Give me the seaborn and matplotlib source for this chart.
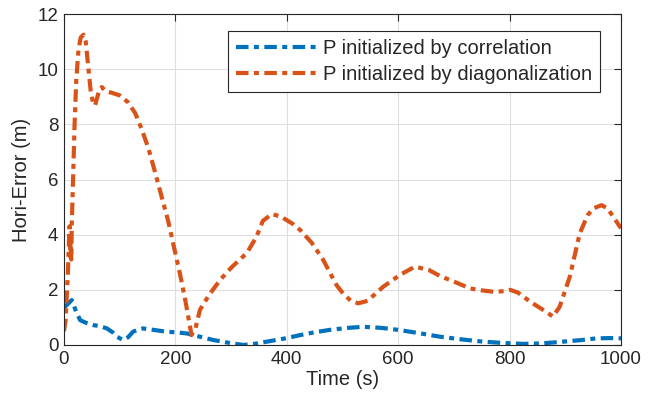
import pandas as pd
import matplotlib
matplotlib.use('Agg')
import matplotlib.pyplot as plt
import seaborn as sns

# values
corr_time = [0, 5, 14, 22, 29, 40, 53, 65, 77, 88, 95, 106, 115, 124, 133, 142, 160, 184, 200,
             220, 240, 268, 295, 322, 345, 364, 400, 424, 450, 478, 510, 537, 570, 603, 640,
             675, 715, 753, 790, 825, 860, 896, 930, 956, 980, 1000]
corr_err = [1.35, 1.45, 1.63, 1.2, 0.9, 0.8, 0.72, 0.68, 0.6, 0.45, 0.3, 0.18, 0.28, 0.48, 0.56,
            0.6, 0.55, 0.48, 0.46, 0.42, 0.32, 0.18, 0.08, 0.0, 0.05, 0.12, 0.25, 0.36, 0.46,
            0.55, 0.62, 0.66, 0.62, 0.54, 0.42, 0.3, 0.2, 0.12, 0.07, 0.04, 0.06, 0.12, 0.18,
            0.24, 0.25, 0.24]

diag_time = [0, 3, 5, 7, 9, 10, 11, 12, 13, 14, 16, 19, 22, 26, 30, 35, 39, 43, 48, 53, 56, 60,
             64, 68, 75, 85, 100, 115, 128, 140, 152, 163, 175, 187, 198, 208, 218, 225, 229,
             236, 244, 260, 280, 300, 328, 345, 357, 373, 390, 410, 424, 445, 465, 478, 490,
             501, 515, 528, 545, 573, 603, 630, 655, 675, 700, 729, 750, 771, 790, 801, 815,
             837, 858, 878, 890, 908, 926, 940, 950, 965, 976, 986, 1000]
diag_err = [0.5, 0.9, 1.8, 2.6, 3.8, 4.3, 3.2, 4.0, 3.1, 4.4, 5.8, 8.0, 9.6, 10.7, 11.15, 11.25,
            11.0, 10.2, 9.2, 8.7, 8.7, 9.0, 9.3, 9.35, 9.2, 9.15, 9.05, 8.8, 8.4, 7.8, 7.1, 6.3,
            5.4, 4.5, 3.5, 2.6, 1.6, 0.8, 0.36, 0.6, 1.27, 1.8, 2.35, 2.8, 3.33, 3.9, 4.5, 4.75,
            4.65, 4.4, 4.17, 3.7, 3.1, 2.6, 2.15, 1.87, 1.6, 1.51, 1.6, 2.11, 2.54, 2.84, 2.72,
            2.5, 2.3, 2.05, 1.98, 1.93, 1.95, 2.0, 1.9, 1.57, 1.3, 1.03, 1.39, 2.47, 4.05, 4.7,
            4.95, 5.07, 4.95, 4.65, 4.23]

labels = ['P initialized by correlation', 'P initialized by diagonalization']
colors = ['#0072BD', '#D95319']
x_ticks = [0, 200, 400, 600, 800, 1000]
y_ticks = [0, 2, 4, 6, 8, 10, 12]

df = pd.concat([
    pd.DataFrame({'Time': corr_time, 'Error': corr_err, 'Method': labels[0]}),
    pd.DataFrame({'Time': diag_time, 'Error': diag_err, 'Method': labels[1]}),
])

sns.set_style('white')
plt.rcParams['font.family'] = ['Liberation Sans', 'DejaVu Sans']
plt.rcParams['font.size'] = 14

fig = plt.figure(figsize=(6.57, 4.01), dpi=100)
ax = fig.add_axes([0.0974, 0.1397, 0.8478, 0.8253])

ax.grid(True, color='#dedede', linewidth=0.8)
ax.set_axisbelow(True)

dash = (3, 1.3, 1.2, 1.3)
sns.lineplot(data=df, x='Time', y='Error', hue='Method', style='Method',
             palette=colors, dashes=[dash, dash], linewidth=3, sort=False,
             ax=ax, legend=False)

ax.set_xlim(0, 1000)
ax.set_ylim(0, 12)
ax.set_xticks(x_ticks)
ax.set_yticks(y_ticks)
ax.tick_params(direction='in', length=5, color='#262626', labelcolor='#262626',
               top=True, right=True, labelsize=13.5, pad=4)
for sp in ax.spines.values():
    sp.set_color('#262626')
    sp.set_linewidth(0.8)

ax.set_xlabel('Time (s)', fontsize=14.5, color='#262626', labelpad=2)
ax.set_ylabel('Hori-Error (m)', fontsize=14.5, color='#262626', labelpad=5)

leg = ax.legend(ax.get_lines()[:2], labels, loc='upper right',
                bbox_to_anchor=(0.9623, 0.9485), frameon=True, fancybox=False,
                edgecolor='#262626', framealpha=1, fontsize=14.5, handlelength=4.0,
                borderpad=0.4, labelspacing=0.35, handletextpad=0.3, borderaxespad=0)
leg.get_frame().set_linewidth(0.8)

fig.savefig('out.png', dpi=100)
